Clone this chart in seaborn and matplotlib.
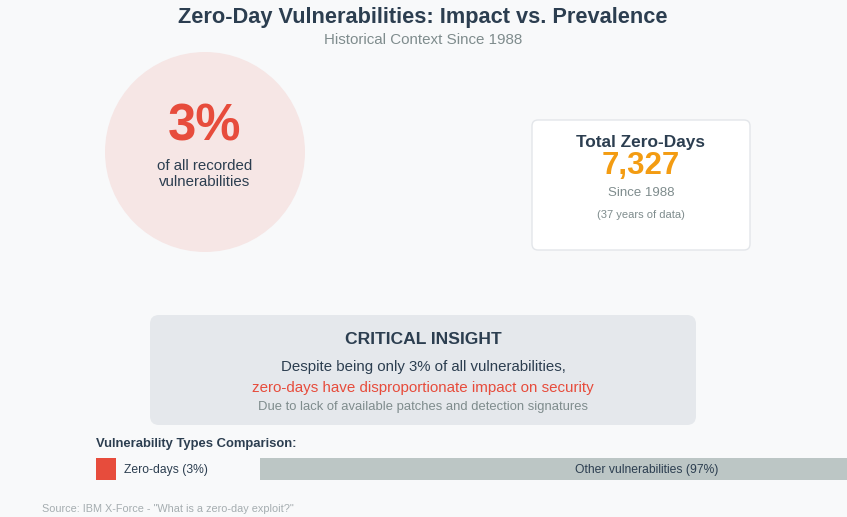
import matplotlib
matplotlib.use("Agg")
import matplotlib.pyplot as plt
from matplotlib.patches import Circle, FancyBboxPatch
import seaborn as sns

# --------------------------
# DATA
# --------------------------
categories = ["Zero-days", "Other vulnerabilities"]
shares = [3, 97]
total_zero_days = 7327
since_year = 1988
years_of_data = 37

RED = "#e74c3c"
ORANGE = "#f39c12"
DARK = "#2c3e50"
GREY_TXT = "#7f8c8d"
BAR_GREY = "#bcc6c5"
BG = "#f8f9fa"

sns.set_theme(style="white")
plt.rcParams["font.family"] = ["Liberation Sans", "DejaVu Sans"]

W, H = 847, 517
fig = plt.figure(figsize=(W / 100, H / 100), dpi=100, facecolor=BG)

# canvas axes in pixel units
ax = fig.add_axes([0, 0, 1, 1])
ax.set_xlim(0, W)
ax.set_ylim(H, 0)
ax.set_facecolor(BG)
ax.axis("off")

# --------------------------
# HEADER
# --------------------------
ax.text(423, 17, "Zero-Day Vulnerabilities: Impact vs. Prevalence",
        ha="center", va="center", fontsize=15.7, fontweight="bold", color=DARK)
ax.text(423, 40, f"Historical Context Since {since_year}",
        ha="center", va="center", fontsize=10.9, color=GREY_TXT)

# --------------------------
# BIG CIRCLE
# --------------------------
ax.add_patch(Circle((205, 152), 100, facecolor="#f6e6e5", edgecolor="none"))
ax.text(205, 127, f"{shares[0]}%", ha="center", va="center",
        fontsize=36.5, fontweight="bold", color=RED)
ax.text(205, 165.5, "of all recorded", ha="center", va="center", fontsize=10.8, color=DARK)
ax.text(205, 181.5, "vulnerabilities", ha="center", va="center", fontsize=10.8, color=DARK)

# --------------------------
# TOTAL CARD
# --------------------------
ax.add_patch(FancyBboxPatch((532, 120), 218, 130,
                            boxstyle="round,pad=0,rounding_size=6",
                            facecolor="white", edgecolor="#e3e6ea", linewidth=1))
ax.text(641, 142.5, "Total Zero-Days", ha="center", va="center",
        fontsize=12.4, fontweight="bold", color=DARK)
ax.text(641, 166, f"{total_zero_days:,}", ha="center", va="center",
        fontsize=22.5, fontweight="bold", color=ORANGE)
ax.text(641, 193, f"Since {since_year}", ha="center", va="center", fontsize=9.5, color=GREY_TXT)
ax.text(641, 215.5, f"({years_of_data} years of data)", ha="center", va="center",
        fontsize=8, color=GREY_TXT)

# --------------------------
# CRITICAL INSIGHT BOX
# --------------------------
ax.add_patch(FancyBboxPatch((150, 315), 546, 110,
                            boxstyle="round,pad=0,rounding_size=9",
                            facecolor="#e5e8ec", edgecolor="none"))
ax.text(423, 339, "CRITICAL INSIGHT", ha="center", va="center",
        fontsize=12.6, fontweight="bold", color=DARK)
ax.text(423, 367, f"Despite being only {shares[0]}% of all vulnerabilities,",
        ha="center", va="center", fontsize=10.85, color=DARK)
ax.text(423, 388, "zero-days have disproportionate impact on security",
        ha="center", va="center", fontsize=10.9, color=RED)
ax.text(423, 407, "Due to lack of available patches and detection signatures",
        ha="center", va="center", fontsize=9.4, color=GREY_TXT)

# --------------------------
# COMPARISON BAR
# --------------------------
ax.text(96, 444, "Vulnerability Types Comparison:", ha="left", va="center",
        fontsize=9.4, fontweight="bold", color=DARK)

px_per_unit = 19.5 / shares[0]
bar_top, bar_h = 458, 21.5


def seg_axes(x0, value, color, label):
    sub = fig.add_axes([x0 / W, 1 - (bar_top + bar_h) / H,
                        value * px_per_unit / W, bar_h / H])
    sns.barplot(x=[value], y=[label], color=color, width=1,
                saturation=1, ax=sub, edgecolor="none")
    sub.set_xlim(0, value)
    sub.set_ylim(0.5, -0.5)
    sub.axis("off")
    return sub


seg_axes(96, shares[0], RED, categories[0])
seg_axes(259.5, shares[1], BAR_GREY, categories[1])

ax.text(124, 470, f"{categories[0]} ({shares[0]}%)", ha="left", va="center",
        fontsize=8.7, color=DARK)
# label drawn on the figure so it sits above the bar axes
fig.text(647 / W, 1 - 470 / H, f"{categories[1]} ({shares[1]}%)", ha="center",
         va="center", fontsize=8.7, color=DARK, zorder=10)

ax.text(42, 509.5, 'Source: IBM X-Force - "What is a zero-day exploit?"', ha="left",
        va="center", fontsize=7.85, color="#a5adb0")

fig.savefig("out.png", dpi=100, facecolor=BG)
